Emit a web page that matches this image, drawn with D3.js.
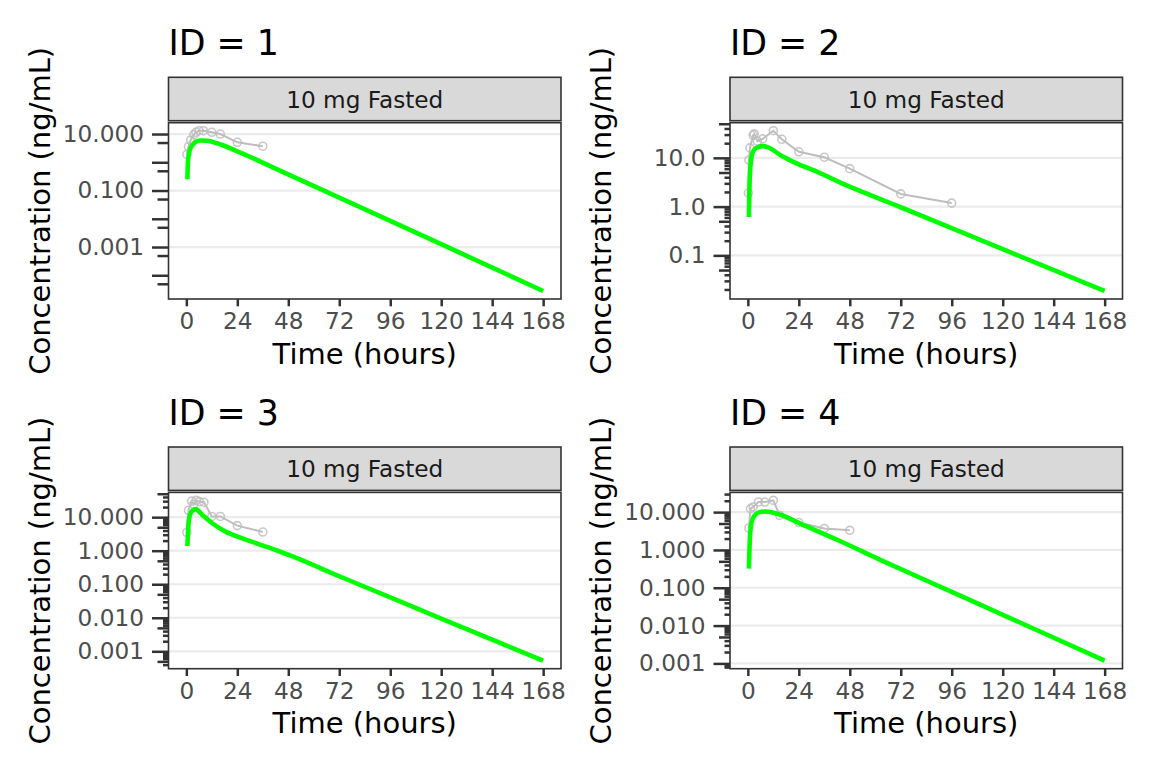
<!DOCTYPE html>
<html>
<head>
<meta charset="utf-8">
<script src="https://cdn.jsdelivr.net/npm/d3@7"></script>
<style>
    body { margin: 0; background: #ffffff; }
    svg text { font-family: "DejaVu Sans", sans-serif; }
</style>
</head>
<body>
<svg id="pk-panels"></svg>
<script>
const width = 1152, height = 768

// ---- data ----
const ids = [1, 2, 3, 4]
const stripLabels = ["10 mg Fasted", "10 mg Fasted", "10 mg Fasted", "10 mg Fasted"]
const xTicks = [0, 24, 48, 72, 96, 120, 144, 168]

const yBreaks = [
    [10, 0.1, 0.001],
    [10, 1, 0.1],
    [10, 1, 0.1, 0.01, 0.001],
    [10, 1, 0.1, 0.01, 0.001],
]
const yLabels = [
    ["10.000", "0.100", "0.001"],
    ["10.0", "1.0", "0.1"],
    ["10.000", "1.000", "0.100", "0.010", "0.001"],
    ["10.000", "1.000", "0.100", "0.010", "0.001"],
]
const showShortTicks = [false, true, true, true]

// observed concentrations (grey)
const obsTime1 = [0.25, 1, 2, 3.5, 4.5, 6, 8, 12, 16, 24, 36]
const obsConc1 = [1.9, 3.6, 6.1, 9.5, 11.5, 13.1, 13.1, 11.5, 10, 5.1, 3.7]
const obsTime2 = [0.25, 0.5, 1, 2.5, 3, 4.5, 7, 12, 16, 24, 36, 48, 72, 96]
const obsConc2 = [1.9, 9.0, 16, 29, 31, 22, 24.5, 36, 24, 13.3, 10.3, 6.0, 1.82, 1.18]
const obsTime3 = [0.25, 1, 2.5, 3.5, 4.7, 6.2, 8.3, 12, 16, 24, 36]
const obsConc3 = [3.5, 16, 30, 24, 31.6, 29, 28, 10.5, 10.5, 5.6, 3.6]
const obsTime4 = [0.5, 1.25, 2.5, 5, 8, 12, 15, 24, 36, 48]
const obsConc4 = [3.8, 12.4, 13.7, 18.6, 18.5, 20.4, 8.2, 5.3, 3.7, 3.3]

// model prediction (green)
const predTime1 = [0.5, 0.75, 1.5, 2.8, 4.3, 6.7, 9.8, 14.5, 23.2, 42, 72, 120, 168]
const predConc1 = [0.25, 1.0, 2.5, 4.0, 5.2, 5.9, 5.8, 4.7, 2.6, 0.6, 0.056, 1.26e-3, 2.78e-5]
const predTime2 = [0.5, 0.75, 1.25, 2.1, 3.8, 7, 9.3, 15.6, 23.5, 33, 42.3, 72, 120, 168]
const predConc2 = [0.61, 2.3, 7.0, 12.3, 15.8, 17.4, 16.6, 11.2, 7.5, 5.1, 3.3, 0.97, 0.134, 0.0186]
const predTime3 = [0.5, 1.2, 2.5, 4.4, 7.5, 12.2, 18.5, 26.4, 42.1, 51.5, 72, 120, 168]
const predConc3 = [1.38, 8.3, 14.7, 17.4, 11.7, 6.6, 3.7, 2.34, 1.05, 0.62, 0.173, 0.0095, 5.25e-4]
const predTime4 = [0.5, 0.8, 1.4, 2.8, 5.5, 8.3, 15.4, 24.2, 42.3, 62.6, 96, 132, 168]
const predConc4 = [0.32, 1.2, 4.1, 7.6, 10, 10.4, 8.5, 5.1, 1.83, 0.54, 0.0776, 0.0096, 1.18e-3]

const obsTimes = [obsTime1, obsTime2, obsTime3, obsTime4]
const obsConcs = [obsConc1, obsConc2, obsConc3, obsConc4]
const predTimes = [predTime1, predTime2, predTime3, predTime4]
const predConcs = [predConc1, predConc2, predConc3, predConc4]

// ---- layout ----
const colLeft = [168.5, 730]
const rowTop = [122.7, 492.4]
const panelW = 392.5, panelH = 176.3
const stripH = 43.4, stripGap = 2
const tickLen = { long: 16.5, mid: 11, short: 5.5 }

const svg = d3.select("svg#pk-panels")
    .attr("viewBox", [0, 0, width, height])
    .attr("width", width)
    .attr("height", height)
    .style("background", "#ffffff")

const zip = (a, b) => a.map((v, i) => ({ t: v, c: b[i] }))

// ggplot-like 5% expansion
function expand(lo, hi) {
    const pad = (hi - lo) * 0.05
    return [lo - pad, hi + pad]
}

function logTicks(domain) {
    const lo = Math.floor(Math.log10(domain[0])), hi = Math.ceil(Math.log10(domain[1]))
    const out = []
    for (let k = lo; k <= hi; k++) {
        for (let m = 1; m <= 9; m++) {
            const v = m * Math.pow(10, k)
            if (v >= domain[0] && v <= domain[1]) out.push({ v, m })
        }
    }
    return out
}

function styleTicks(g) {
    g.select(".domain").remove()
    g.selectAll(".tick line")
        .attr("stroke", "#333333")
        .attr("stroke-width", 2.5)
}

ids.forEach((id, i) => {
    const left = colLeft[i % 2], top = rowTop[Math.floor(i / 2)]
    const bottom = top + panelH, right = left + panelW

    const obs = zip(obsTimes[i], obsConcs[i])
    const pred = zip(predTimes[i], predConcs[i])

    const xScale = d3.scaleLinear()
        .domain(expand(...d3.extent(xTicks)))
        .range([left, right])

    const logExt = d3.extent(obs.concat(pred), d => Math.log10(d.c))
    const yDom = expand(...logExt).map(v => Math.pow(10, v))
    const yScale = d3.scaleLog()
        .domain(yDom)
        .range([bottom, top])

    const panel = svg.append("g").attr("class", "panel")

    // title
    panel.append("text")
        .attr("x", left)
        .attr("y", top - 67.7)
        .attr("font-size", 34.8)
        .attr("fill", "#000000")
        .text(`ID = ${id}`)

    // strip
    panel.append("rect")
        .attr("x", left)
        .attr("y", top - stripGap - stripH)
        .attr("width", panelW)
        .attr("height", stripH)
        .attr("fill", "#D9D9D9")
        .attr("stroke", "#333333")
        .attr("stroke-width", 1.6)

    panel.append("text")
        .attr("x", left + panelW / 2)
        .attr("y", top - stripGap - stripH / 2)
        .attr("text-anchor", "middle")
        .attr("dominant-baseline", "central")
        .attr("font-size", 23.2)
        .attr("fill", "#1A1A1A")
        .text(stripLabels[i])

    // gridlines at labelled breaks
    panel.append("g")
        .selectAll("line.grid")
        .data(yBreaks[i])
        .join("line").attr("class", "grid")
        .attr("x1", left)
        .attr("x2", right)
        .attr("y1", d => yScale(d))
        .attr("y2", d => yScale(d))
        .attr("stroke", "#EBEBEB")
        .attr("stroke-width", 2.2)

    // data
    const clipId = `clip-${id}`
    svg.append("clipPath").attr("id", clipId)
        .append("rect")
        .attr("x", left).attr("y", top)
        .attr("width", panelW).attr("height", panelH)

    const plot = panel.append("g").attr("clip-path", `url(#${clipId})`)

    plot.append("path")
        .datum(obs)
        .attr("fill", "none")
        .attr("stroke", "#BEBEBE")
        .attr("stroke-width", 2)
        .attr("d", d3.line().x(d => xScale(d.t)).y(d => yScale(d.c)))

    plot.selectAll("circle.obs")
        .data(obs)
        .join("circle").attr("class", "obs")
        .attr("cx", d => xScale(d.t))
        .attr("cy", d => yScale(d.c))
        .attr("r", 4)
        .attr("fill", "none")
        .attr("stroke", "#BEBEBE")
        .attr("stroke-opacity", 0.85)
        .attr("stroke-width", 1.6)

    plot.append("path")
        .datum(pred)
        .attr("fill", "none")
        .attr("stroke", "#00FF00")
        .attr("stroke-width", 4.6)
        .attr("stroke-linejoin", "round")
        .attr("d", d3.line().curve(d3.curveMonotoneX).x(d => xScale(d.t)).y(d => yScale(d.c)))

    // panel border
    panel.append("rect")
        .attr("x", left).attr("y", top)
        .attr("width", panelW).attr("height", panelH)
        .attr("fill", "none")
        .attr("stroke", "#333333")
        .attr("stroke-width", 1.6)

    // x axis
    panel.append("g")
        .attr("transform", `translate(0, ${bottom})`)
        .call(d3.axisBottom(xScale).tickValues(xTicks).tickSize(7.3).tickPadding(6.2))
        .call(styleTicks)
        .call(g => g.selectAll(".tick text")
            .attr("font-size", 23.2)
            .attr("font-family", "DejaVu Sans")
            .attr("fill", "#4D4D4D"))

    // y axis: log ticks long / mid / short
    const ticks = logTicks(yDom)
    const groups = [
        ["long", ticks.filter(d => d.m === 1)],
        ["mid", ticks.filter(d => d.m === 5)],
        ["short", showShortTicks[i] ? ticks.filter(d => d.m !== 1 && d.m !== 5) : []],
    ]
    groups.forEach(([kind, vals]) => {
        panel.append("g")
            .attr("transform", `translate(${left}, 0)`)
            .call(d3.axisLeft(yScale).tickValues(vals.map(d => d.v)).tickSize(tickLen[kind]).tickFormat(""))
            .call(styleTicks)
    })

    panel.append("g")
        .attr("transform", `translate(${left}, 0)`)
        .call(d3.axisLeft(yScale).tickValues(yBreaks[i]).tickSize(0).tickPadding(24.5)
            .tickFormat((d, j) => yLabels[i][j]))
        .call(g => g.select(".domain").remove())
        .call(g => g.selectAll(".tick text")
            .attr("font-size", 23.2)
            .attr("font-family", "DejaVu Sans")
            .attr("fill", "#4D4D4D"))

    // axis titles
    panel.append("text")
        .attr("x", left + panelW / 2)
        .attr("y", bottom + 64.5)
        .attr("text-anchor", "middle")
        .attr("font-size", 29)
        .attr("fill", "#000000")
        .text("Time (hours)")

    panel.append("text")
        .attr("transform", `translate(${left - 119}, ${top + panelH / 2}) rotate(-90)`)
        .attr("text-anchor", "middle")
        .attr("font-size", 29)
        .attr("fill", "#000000")
        .text("Concentration (ng/mL)")
})
</script>
</body>
</html>
